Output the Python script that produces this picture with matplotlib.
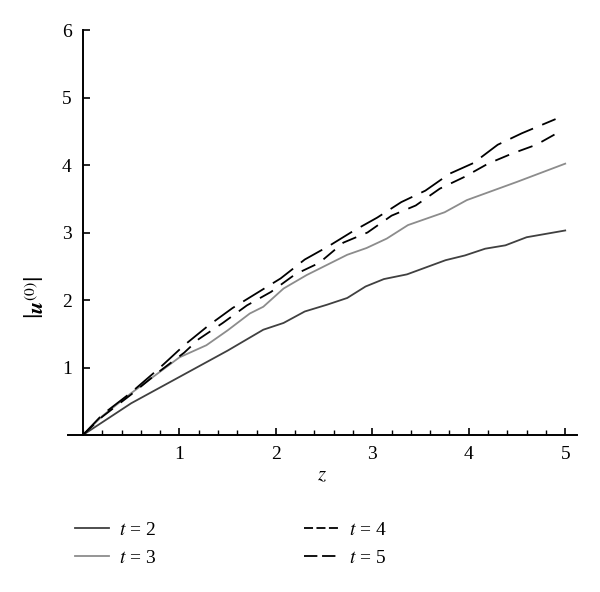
import numpy as np
import matplotlib
matplotlib.use("Agg")
import matplotlib.pyplot as plt
from matplotlib.lines import Line2D
from matplotlib.ticker import MultipleLocator, FixedLocator

plt.rcParams['font.family'] = ['Liberation Serif', 'DejaVu Serif']
plt.rcParams['mathtext.fontset'] = 'stix'

# |u^(0)| versus z for several t
z_t2 = [0, 0.5, 1.0, 1.5, 1.87, 2.08, 2.30, 2.53, 2.74, 2.93, 3.12, 3.36, 3.76, 3.96, 4.17, 4.38, 4.60, 5.0]
u_t2 = [0, 0.47, 0.86, 1.25, 1.56, 1.66, 1.83, 1.93, 2.03, 2.20, 2.31, 2.38, 2.59, 2.66, 2.76, 2.81, 2.93, 3.03]

z_t3 = [0, 0.2, 0.5, 1.0, 1.28, 1.5, 1.73, 1.87, 2.08, 2.32, 2.53, 2.74, 2.94, 3.15, 3.37, 3.75, 3.98, 4.5, 5.0]
u_t3 = [0, 0.28, 0.62, 1.15, 1.33, 1.55, 1.80, 1.90, 2.17, 2.37, 2.52, 2.67, 2.77, 2.91, 3.11, 3.30, 3.48, 3.75, 4.02]

z_t4 = [0, 0.2, 0.5, 0.8, 1.05, 1.2, 1.45, 1.7, 1.95, 2.2, 2.45, 2.7, 2.95, 3.2, 3.45, 3.7, 3.95, 4.2, 4.45, 4.7, 4.95]
u_t4 = [0, 0.27, 0.6, 0.95, 1.22, 1.42, 1.66, 1.92, 2.12, 2.38, 2.55, 2.85, 3.0, 3.25, 3.4, 3.65, 3.82, 4.02, 4.17, 4.3, 4.5]

z_t5 = [0, 0.2, 0.5, 0.8, 1.05, 1.3, 1.55, 1.8, 2.05, 2.3, 2.55, 2.8, 3.05, 3.3, 3.55, 3.8, 4.05, 4.3, 4.55, 4.9]
u_t5 = [0, 0.3, 0.63, 1.0, 1.33, 1.62, 1.88, 2.1, 2.32, 2.6, 2.8, 3.02, 3.22, 3.45, 3.62, 3.87, 4.03, 4.3, 4.47, 4.68]

labels = ['$t$ = 2', '$t$ = 3', '$t$ = 4', '$t$ = 5']

fig = plt.figure(figsize=(6.0, 5.92), dpi=100)
ax = fig.add_axes([0.1133, 0.2652, 0.848, 0.6841])

lw = 1.3
ax.plot(z_t2, u_t2, color='#404040', lw=lw)
ax.plot(z_t3, u_t3, color='#8c8c8c', lw=lw)
ax.plot(z_t4, u_t4, color='black', lw=lw, dashes=(8.3, 5.5))
ax.plot(z_t5, u_t5, color='black', lw=lw, dashes=(13.8, 5.5))

ax.set_xlim(-0.155, 5.12)
ax.set_ylim(0, 6)
ax.spines['top'].set_visible(False)
ax.spines['right'].set_visible(False)
ax.spines['left'].set_position(('data', 0))
ax.spines['left'].set_linewidth(1.4)
ax.spines['bottom'].set_linewidth(1.4)

ax.xaxis.set_major_locator(FixedLocator([1, 2, 3, 4, 5]))
ax.xaxis.set_minor_locator(MultipleLocator(0.2))
ax.yaxis.set_major_locator(FixedLocator([1, 2, 3, 4, 5, 6]))
ax.tick_params(axis='both', which='major', direction='in', length=5, width=1.2,
               labelsize=14, pad=8)
ax.tick_params(axis='x', which='minor', direction='in', length=3.5, width=1.0)

ax.set_xlabel('$z$', fontsize=15, labelpad=2)
ax.set_ylabel(r'$\left|\mathbfit{u}^{(0)}\right|$', fontsize=16)
ax.yaxis.set_label_coords(-0.04, 0.34)

# legend handles use shorter dashes, as in the reference key
handles = [
    Line2D([], [], color='#404040', lw=lw),
    Line2D([], [], color='#8c8c8c', lw=lw),
    Line2D([], [], color='black', lw=lw, dashes=(5.0, 1.9)),
    Line2D([], [], color='black', lw=lw, dashes=(7.4, 2.6)),
]
fig.legend(handles, labels, loc='upper left', bbox_to_anchor=(0.095, 0.149), ncol=2,
           frameon=False, fontsize=14, handlelength=1.75, columnspacing=7.6,
           labelspacing=0.55, handletextpad=0.55)

fig.savefig('out.png', dpi=100)
